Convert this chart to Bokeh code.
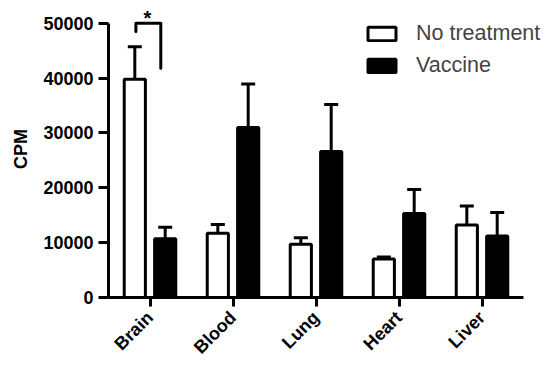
import numpy as np
from math import pi
from bokeh.plotting import figure
from bokeh.models import (ColumnDataSource, Range1d, FixedTicker, Whisker, TeeHead,
                          Legend, LegendItem)
from bokeh.core.properties import value
from bokeh.embed import file_html
from bokeh.resources import INLINE

# ---- data ----
categories = ["Brain", "Blood", "Lung", "Heart", "Liver"]
no_treatment = [39800, 11700, 9700, 7000, 13200]
no_treatment_err = [5900, 1600, 1200, 400, 3500]
vaccine = [10700, 31000, 26600, 15300, 11200]
vaccine_err = [2100, 7900, 8600, 4400, 4300]
y_ticks = [0, 10000, 20000, 30000, 40000, 50000]
# significance bracket over Brain
sig_category = "Brain"
sig_bracket_x = [-0.17, -0.17, 0.13, 0.13]   # offsets from category centre
sig_bracket_y = [48500, 50000, 50000, 41800]
sig_label = "*"
sig_label_x = -0.03
sig_label_y = 50900

FONT = "Liberation Sans"
BAR_W = 0.255
OFF = 0.183

idx = np.arange(len(categories))
nt_src = ColumnDataSource(dict(x=idx - OFF, top=no_treatment,
                               upper=np.array(no_treatment) + np.array(no_treatment_err)))
v_src = ColumnDataSource(dict(x=idx + OFF, top=vaccine,
                              upper=np.array(vaccine) + np.array(vaccine_err)))

p = figure(width=547, height=367, output_backend="svg", toolbar_location=None,
           title=None, x_range=Range1d(-0.5, 4.789), y_range=Range1d(0, 54138),
           min_border_left=108, min_border_right=0, min_border_top=0,
           min_border_bottom=70)
p.outline_line_color = None
p.xgrid.grid_line_color = None
p.ygrid.grid_line_color = None
p.background_fill_color = "white"

r_nt = p.vbar(x="x", top="top", width=BAR_W, bottom=0, source=nt_src,
              fill_color="white", line_color="black", line_width=3)
r_v = p.vbar(x="x", top="top", width=BAR_W, bottom=0, source=v_src,
             fill_color="black", line_color="black", line_width=3)

for src in (nt_src, v_src):
    w = Whisker(base="x", lower="top", upper="upper", source=src,
                line_color="black", line_width=3, lower_head=None,
                upper_head=TeeHead(size=14, line_width=3, line_color="black"))
    p.add_layout(w)

ci = categories.index(sig_category)
p.line(x=[ci + v for v in sig_bracket_x], y=sig_bracket_y, line_color="black",
       line_width=3, line_cap="round", line_join="round")
p.text(x=[ci + sig_label_x], y=[sig_label_y], text=[sig_label],
       text_font=value(FONT), text_font_style="bold", text_font_size="20px",
       text_align="center", text_baseline="alphabetic", text_color="black")

# axes
for ax in (p.xaxis[0], p.yaxis[0]):
    ax.axis_line_width = 3
    ax.axis_line_color = "black"
    ax.major_tick_line_width = 3
    ax.major_tick_line_color = "black"
    ax.major_tick_in = 0
    ax.minor_tick_line_color = None
    ax.major_label_text_font = FONT
    ax.major_label_text_font_style = "bold"
    ax.major_label_text_color = "black"

p.yaxis.ticker = FixedTicker(ticks=y_ticks)
p.yaxis.bounds = (0, 50000)
p.yaxis.major_tick_out = 10
p.yaxis.major_label_text_font_size = "18px"
p.yaxis.major_label_standoff = 5
p.yaxis.axis_label = "CPM"
p.yaxis.axis_label_text_font = FONT
p.yaxis.axis_label_text_font_style = "bold"
p.yaxis.axis_label_text_font_size = "18px"
p.yaxis.axis_label_text_color = "black"
p.yaxis.axis_label_standoff = 9

p.xaxis.ticker = FixedTicker(ticks=list(idx))
p.xaxis.major_label_overrides = {int(i): c for i, c in zip(idx, categories)}
p.xaxis.bounds = (-0.5, 4.5)
p.xaxis.major_tick_out = 9
p.xaxis.major_label_orientation = pi / 4
p.xaxis.major_label_text_font_size = "18px"
p.xaxis.major_label_standoff = 8

legend = Legend(items=[LegendItem(label="No treatment", renderers=[r_nt]),
                       LegendItem(label="Vaccine", renderers=[r_v])],
                location=(256, 219), glyph_width=35, glyph_height=17,
                label_text_font=FONT, label_text_font_size="21.5px",
                label_standoff=17, spacing=7, padding=0, margin=0,
                border_line_color=None, background_fill_alpha=0)
p.add_layout(legend)

open("out.html", "w").write(file_html(p, INLINE))
